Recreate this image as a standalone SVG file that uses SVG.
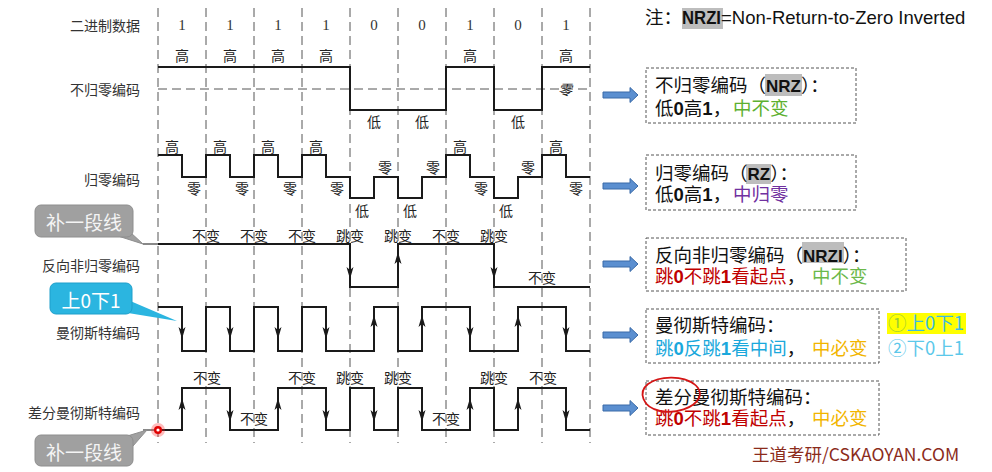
<svg xmlns="http://www.w3.org/2000/svg" xmlns:xlink="http://www.w3.org/1999/xlink" width="992" height="472" viewBox="0 0 992 472">
<style>
.grid{stroke:#555;stroke-width:1;stroke-dasharray:9,5;fill:none}
.wave{stroke:#1a1a1a;stroke-width:2;fill:none}
.lab{font-family:"Noto Sans CJK SC","Liberation Sans",sans-serif;font-size:14px;fill:#333;text-anchor:end;dominant-baseline:central}
.wl{font-family:"Noto Sans CJK SC","Liberation Serif",serif;font-size:14px;fill:#222;text-anchor:middle;dominant-baseline:central}
.bit{font-family:"Liberation Serif",serif;font-size:15px;fill:#333;text-anchor:middle;dominant-baseline:central}
.bx{fill:none;stroke:#555;stroke-width:1;stroke-dasharray:3,2}
.bt{font-family:"Noto Sans CJK SC","Liberation Sans",sans-serif;font-size:18.5px;fill:#111}
.b{font-family:"Liberation Sans",sans-serif;font-weight:bold}
.hl{fill:#BDBDBD}
.barr{fill:#5B8FD0;stroke:#3A6BA8;stroke-width:1}
.gc{fill:#A0A0A0;stroke:#8E8E8E;stroke-width:1}
.ct{font-family:"Noto Sans CJK SC","Liberation Sans",sans-serif;font-size:19px;fill:#F4F4F4;text-anchor:middle;dominant-baseline:central}
</style>
<defs>
<path id="ah" d="M0,0 L-3.5,-12 L0,-9 L3.5,-12 Z" fill="#1a1a1a"/>
</defs>

<g id="grid">
<line class="grid" x1="158" y1="8" x2="158" y2="443"/>
<line class="grid" x1="206" y1="8" x2="206" y2="443"/>
<line class="grid" x1="254" y1="8" x2="254" y2="443"/>
<line class="grid" x1="302" y1="8" x2="302" y2="443"/>
<line class="grid" x1="350" y1="8" x2="350" y2="443"/>
<line class="grid" x1="398" y1="8" x2="398" y2="443"/>
<line class="grid" x1="446" y1="8" x2="446" y2="443"/>
<line class="grid" x1="494" y1="8" x2="494" y2="443"/>
<line class="grid" x1="542" y1="8" x2="542" y2="443"/>
<line class="grid" x1="590" y1="8" x2="590" y2="443"/>
<line class="grid" x1="158" y1="89" x2="590" y2="89"/>
</g>

<g id="labels">
<text class="lab" x="140" y="25">二进制数据</text>
<text class="lab" x="140" y="89">不归零编码</text>
<text class="lab" x="140" y="179">归零编码</text>
<text class="lab" x="140" y="265">反向非归零编码</text>
<text class="lab" x="140" y="332">曼彻斯特编码</text>
<text class="lab" x="140" y="412">差分曼彻斯特编码</text>
</g>

<g id="bits">
<text class="bit" x="182" y="25">1</text>
<text class="bit" x="230" y="25">1</text>
<text class="bit" x="278" y="25">1</text>
<text class="bit" x="326" y="25">1</text>
<text class="bit" x="374" y="25">0</text>
<text class="bit" x="422" y="25">0</text>
<text class="bit" x="470" y="25">1</text>
<text class="bit" x="518" y="25">0</text>
<text class="bit" x="566" y="25">1</text>
</g>

<g id="nrz">
<path class="wave" d="M158,67 H350 V110 H446 V67 H494 V110 H542 V67 H590"/>
<text class="wl" x="182" y="55">高</text>
<text class="wl" x="230" y="55">高</text>
<text class="wl" x="278" y="55">高</text>
<text class="wl" x="326" y="55">高</text>
<text class="wl" x="470" y="55">高</text>
<text class="wl" x="566" y="55">高</text>
<text class="wl" x="374" y="121">低</text>
<text class="wl" x="422" y="121">低</text>
<text class="wl" x="518" y="121">低</text>
<text class="wl" x="565" y="89" font-style="italic">零</text>
</g>

<g id="rz">
<path class="wave" d="M158,155 H182 V177 H206 V155 H230 V177 H254 V155 H278 V177 H302 V155 H326 V177 H350 V198 H374 V177 H398 V198 H422 V177 H446 V155 H470 V177 H494 V198 H518 V177 H542 V155 H566 V177 H590"/>
<text class="wl" x="172" y="146">高</text>
<text class="wl" x="220" y="146">高</text>
<text class="wl" x="268" y="146">高</text>
<text class="wl" x="316" y="146">高</text>
<text class="wl" x="460" y="146">高</text>
<text class="wl" x="556" y="146">高</text>
<text class="wl" x="194" y="188">零</text>
<text class="wl" x="242" y="188">零</text>
<text class="wl" x="290" y="188">零</text>
<text class="wl" x="337" y="188">零</text>
<text class="wl" x="481" y="188">零</text>
<text class="wl" x="576" y="188">零</text>
<text class="wl" x="385" y="167">零</text>
<text class="wl" x="433" y="167">零</text>
<text class="wl" x="528" y="167">零</text>
<text class="wl" x="362" y="210">低</text>
<text class="wl" x="410" y="210">低</text>
<text class="wl" x="506" y="210">低</text>
</g>

<g id="nrzi">
<line x1="143" y1="244" x2="158" y2="244" stroke="#888" stroke-width="2"/>
<path class="wave" d="M158,244 H350 V287 H398 V244 H494 V287 H590"/>
<use xlink:href="#ah" transform="translate(350,279)"/>
<use xlink:href="#ah" transform="translate(398,252) rotate(180)"/>
<use xlink:href="#ah" transform="translate(494,279)"/>
<text class="wl" x="206" y="235">不变</text>
<text class="wl" x="254" y="235">不变</text>
<text class="wl" x="302" y="235">不变</text>
<text class="wl" x="350" y="235">跳变</text>
<text class="wl" x="398" y="235">跳变</text>
<text class="wl" x="446" y="235">不变</text>
<text class="wl" x="494" y="235">跳变</text>
<text class="wl" x="542" y="277">不变</text>
</g>

<g id="manchester">
<path class="wave" d="M158,307 H182 V351 H206 V307 H230 V351 H254 V307 H278 V351 H302 V307 H326 V351 H374 V307 H398 V351 H422 V307 H470 V351 H518 V307 H566 V351 H590"/>
<use xlink:href="#ah" transform="translate(182,339)"/>
<use xlink:href="#ah" transform="translate(230,339)"/>
<use xlink:href="#ah" transform="translate(278,339)"/>
<use xlink:href="#ah" transform="translate(326,339)"/>
<use xlink:href="#ah" transform="translate(470,339)"/>
<use xlink:href="#ah" transform="translate(566,339)"/>
<use xlink:href="#ah" transform="translate(374,315) rotate(180)"/>
<use xlink:href="#ah" transform="translate(422,315) rotate(180)"/>
<use xlink:href="#ah" transform="translate(518,315) rotate(180)"/>
</g>

<g id="diffmanchester">
<line x1="143" y1="430" x2="158" y2="430" stroke="#888" stroke-width="2"/>
<path class="wave" d="M158,430 H182 V388 H230 V430 H278 V388 H326 V430 H350 V388 H374 V430 H398 V388 H422 V430 H470 V388 H494 V430 H518 V388 H566 V430 H590"/>
<use xlink:href="#ah" transform="translate(182,398) rotate(180)"/>
<use xlink:href="#ah" transform="translate(278,398) rotate(180)"/>
<use xlink:href="#ah" transform="translate(470,398) rotate(180)"/>
<use xlink:href="#ah" transform="translate(518,398) rotate(180)"/>
<use xlink:href="#ah" transform="translate(230,422)"/>
<use xlink:href="#ah" transform="translate(326,422)"/>
<use xlink:href="#ah" transform="translate(374,422)"/>
<use xlink:href="#ah" transform="translate(422,422)"/>
<use xlink:href="#ah" transform="translate(566,422)"/>
<text class="wl" x="207" y="377">不变</text>
<text class="wl" x="254" y="418">不变</text>
<text class="wl" x="302" y="377">不变</text>
<text class="wl" x="350" y="377">跳变</text>
<text class="wl" x="398" y="377">跳变</text>
<text class="wl" x="446" y="418">不变</text>
<text class="wl" x="494" y="377">跳变</text>
<text class="wl" x="543" y="377">不变</text>
<circle cx="158" cy="430" r="7" fill="#FF2020" opacity="0.3"/>
<circle cx="158" cy="430" r="4" fill="#E00000"/>
<circle cx="158" cy="430" r="1.6" fill="#FFFFFF"/>
</g>

<g id="callout-top">
<polygon class="gc" points="118,236 130,232 143,244"/>
<rect class="gc" x="35" y="205" width="98" height="32" rx="6"/>
<text class="ct" x="84" y="221">补一段线</text>
</g>
<g id="callout-bottom">
<polygon class="gc" points="124,437 133,446 147,430"/>
<rect class="gc" x="35" y="435" width="98" height="31" rx="6"/>
<text class="ct" x="84" y="451">补一段线</text>
</g>
<g id="callout-manchester">
<polygon points="128,300 128,313 177,321" fill="#2BB5E0"/>
<rect x="50" y="283" width="82" height="31" rx="6" fill="#2BB5E0" stroke="#1E9FCB"/>
<text class="ct" x="91" y="299" style="fill:#FFFFFF">上0下1</text>
</g>

<g id="note">
<rect class="hl" x="682" y="8" width="41" height="21"/>
<text class="bt" x="645" y="24">注：<tspan class="b" textLength="39" lengthAdjust="spacingAndGlyphs">NRZI</tspan><tspan font-family="Liberation Sans, sans-serif">=Non-Return-to-Zero Inverted</tspan></text>
</g>

<g id="connectors">
<polygon class="barr" points="603,92 630,92 630,87.5 638,95 630,102.5 630,98 603,98"/>
<polygon class="barr" points="603,183 630,183 630,178.5 638,186 630,193.5 630,189 603,189"/>
<polygon class="barr" points="603,261 630,261 630,256.5 638,264 630,271.5 630,267 603,267"/>
<polygon class="barr" points="603,332 630,332 630,327.5 638,335 630,342.5 630,338 603,338"/>
<polygon class="barr" points="603,405 630,405 630,400.5 638,408 630,415.5 630,411 603,411"/>
</g>

<g id="box-nrz">
<rect class="bx" x="646" y="68" width="210" height="55"/>
<rect class="hl" x="765" y="74" width="37" height="22"/>
<text class="bt" x="655" y="92">不归零编码（<tspan class="b" font-size="17">NRZ</tspan>）：</text>
<text class="bt" x="655" y="115">低<tspan class="b">0</tspan>高<tspan class="b">1</tspan>，<tspan x="733" fill="#5DB030">中不变</tspan></text>
</g>

<g id="box-rz">
<rect class="bx" x="646" y="155" width="210" height="55"/>
<rect class="hl" x="746" y="164" width="25" height="20"/>
<text class="bt" x="655" y="180">归零编码（<tspan class="b" font-size="17">RZ</tspan>）：</text>
<text class="bt" x="655" y="201">低<tspan class="b">0</tspan>高<tspan class="b">1</tspan>，<tspan x="733" fill="#7030A0">中归零</tspan></text>
</g>

<g id="box-nrzi">
<rect class="bx" x="646" y="238" width="260" height="53"/>
<rect class="hl" x="802" y="242" width="42" height="21"/>
<text class="bt" x="655" y="262">反向非归零编码（<tspan class="b" font-size="17">NRZI</tspan>）：</text>
<text class="bt" x="655" y="283" style="fill:#C00000">跳<tspan class="b">0</tspan>不跳<tspan class="b">1</tspan>看起点<tspan style="fill:#111">，</tspan><tspan x="812" style="fill:#6BB84A">中不变</tspan></text>
</g>

<g id="box-manchester">
<rect class="bx" x="646" y="309" width="233" height="54"/>
<text class="bt" x="655" y="332">曼彻斯特编码：</text>
<text class="bt" x="655" y="355" style="fill:#1AA8DC">跳<tspan class="b">0</tspan>反跳<tspan class="b">1</tspan>看中间<tspan style="fill:#111">，</tspan><tspan x="812" style="fill:#F2B500">中必变</tspan></text>
<rect x="887" y="313" width="79" height="21" fill="#FFFF00"/>
<text class="bt" x="888" y="330" style="fill:#3BBCE0"><tspan style="fill:#9ACD32">①</tspan>上0下1</text>
<text class="bt" x="888" y="355" style="fill:#5CC8EA">②下0上1</text>
</g>

<g id="box-diffmanchester">
<rect class="bx" x="646" y="381" width="233" height="54"/>
<text class="bt" x="655" y="404">差分曼彻斯特编码：</text>
<text class="bt" x="655" y="425" style="fill:#C00000">跳<tspan class="b">0</tspan>不跳<tspan class="b">1</tspan>看起点<tspan style="fill:#111">，</tspan><tspan x="812" style="fill:#F2B500">中必变</tspan></text>
<path d="M694,384 C684,376 660,375 648,384 C638,392 642,407 660,411 C676,414 694,408 699,398 C702,391 697,384 688,381" fill="none" stroke="#D41515" stroke-width="1.8"/>
</g>

<g id="footer">
<text x="752" y="461" font-family="Noto Sans CJK SC, Liberation Sans, sans-serif" font-size="17.5" fill="#8B2B1B">王道考研/CSKAOYAN.COM</text>
</g>
</svg>
